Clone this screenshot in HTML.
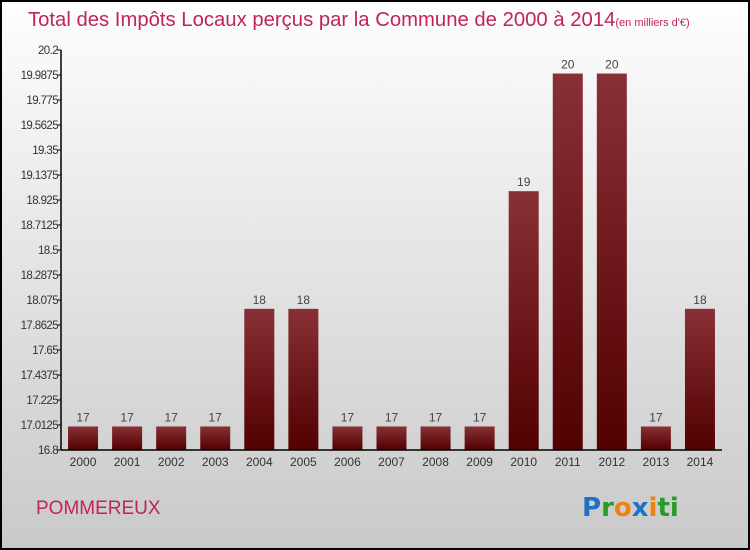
<!DOCTYPE html>
<html><head><meta charset="utf-8"><style>
html,body{margin:0;padding:0;}
body{width:750px;height:550px;overflow:hidden;font-family:"Liberation Sans",sans-serif;}
#frame{position:absolute;left:0;top:0;width:746px;height:546px;border:2px solid #000;background:linear-gradient(#fefefe,#f3f3f3 20%,#c9c9c9);}
</style></head><body>
<div id="frame"></div>
<svg id="chart" width="750" height="550" style="position:absolute;left:0;top:0">
<defs>
<linearGradient id="bg1" x1="0" y1="0" x2="0" y2="1"><stop offset="0" stop-color="#883036"/><stop offset="1" stop-color="#520000"/></linearGradient>
</defs>
<text x="28" y="26" font-size="20.3" fill="#c0245a">Total des Impôts Locaux perçus par la Commune de 2000 à 2014<tspan font-size="11">(en milliers d'€)</tspan></text>
<text x="36" y="514" font-size="19" fill="#c0245a">POMMEREUX</text>
<g font-size="26" font-weight="bold" font-family="'DejaVu Sans',sans-serif">
<text x="582" y="516"><tspan fill="#1a73c8">P</tspan><tspan fill="#2a9a2a">r</tspan><tspan fill="#f08010">o</tspan><tspan fill="#1a73c8">x</tspan><tspan fill="#f08010">i</tspan><tspan fill="#2a9a2a">ti</tspan></text>
</g>
<g id="plot"></g>
</svg>
<script>
const years=["2000","2001","2002","2003","2004","2005","2006","2007","2008","2009","2010","2011","2012","2013","2014"];
const values=[17,17,17,17,18,18,17,17,17,17,19,20,20,17,18];
const valueLabels=["17","17","17","17","18","18","17","17","17","17","19","20","20","17","18"];
const yTicks=[16.8,17.0125,17.225,17.4375,17.65,17.8625,18.075,18.2875,18.5,18.7125,18.925,19.1375,19.35,19.5625,19.775,19.9875,20.2];
const yMin=16.8,yMax=20.2,plotTop=50,plotBottom=450,plotLeft=61,plotRight=722;
const NS="http://www.w3.org/2000/svg";
const g=document.getElementById('plot');
function yPos(v){return plotBottom-(v-yMin)/(yMax-yMin)*(plotBottom-plotTop);}
const bw=(plotRight-plotLeft)/years.length;
function xPos(i){return plotLeft+bw*i+bw/2;}
function mk(t,a){const e=document.createElementNS(NS,t);for(const k in a)e.setAttribute(k,a[k]);g.appendChild(e);return e;}
years.forEach((yr,i)=>{
 const r=mk('rect',{x:xPos(i)-15,y:yPos(values[i]),width:30,height:plotBottom-yPos(values[i]),fill:'url(#bg1)'});
 
 
 const t=mk('text',{x:xPos(i),y:yPos(values[i])-5,'text-anchor':'middle','font-size':12,fill:'#444'});
 t.textContent=valueLabels[i];
 
 
 const xl=mk('text',{x:xPos(i),y:plotBottom+16,'text-anchor':'middle','font-size':12,fill:'#333'});
 xl.textContent=yr;
 
 
});
yTicks.forEach(v=>{
 mk('line',{x1:plotLeft-4,x2:plotLeft,y1:yPos(v),y2:yPos(v),stroke:'#000','stroke-width':1});
 const t=mk('text',{x:plotLeft-3,y:yPos(v)+4,'text-anchor':'end','font-size':11.5,fill:'#333','letter-spacing':'-0.6'});
 t.textContent=String(v);
 
 
});
const ya=mk('line',{x1:plotLeft,x2:plotLeft,y1:plotTop,y2:plotBottom,stroke:'#000','stroke-width':1.5});


const xa=mk('line',{x1:plotLeft,x2:plotRight,y1:plotBottom,y2:plotBottom,stroke:'#000','stroke-width':1.5});


</script>
</body></html>
